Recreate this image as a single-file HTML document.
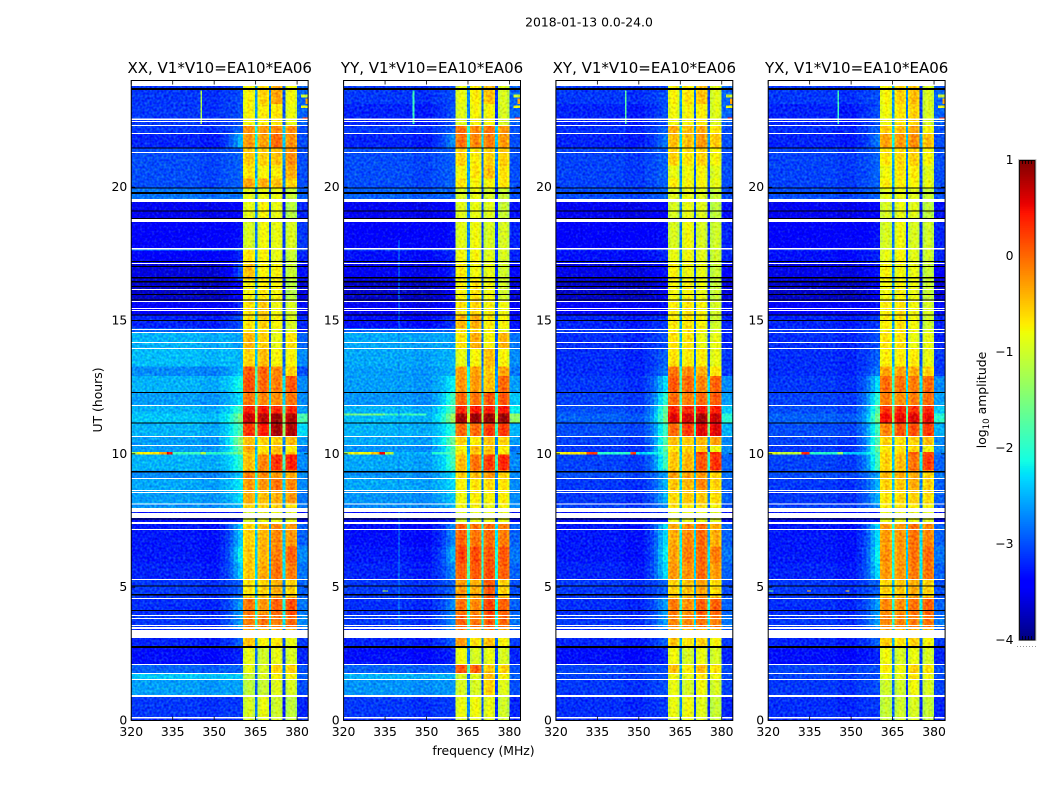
<!DOCTYPE html>
<html lang="en">
<head>
<meta charset="utf-8">
<title>2018-01-13 0.0-24.0</title>
<style>
html,body{margin:0;padding:0;background:#fff}
#chart{display:block;width:1050px;height:800px}
text{font-family:"DejaVu Sans","Liberation Sans",sans-serif;fill:#000}
</style>
</head>
<body>
<svg id="chart" xmlns="http://www.w3.org/2000/svg" width="1050" height="800" viewBox="0 0 1050 800">
<defs>
<filter id="speckle" x="0" y="0" width="1" height="1" color-interpolation-filters="sRGB">
<feTurbulence type="fractalNoise" baseFrequency="0.42" numOctaves="1" seed="7" result="n"/>
<feColorMatrix in="n" type="matrix" values="0.5 0 0 0 0.25  1 0 0 0 0  0 0.9 0 0 0.05  0 0 0 0 1" result="m"/>
<feComposite in="SourceGraphic" in2="m" operator="arithmetic" k1="0" k2="1" k3="0.6" k4="-0.3"/>
</filter>
</defs>
<rect x="0" y="0" width="1050" height="800" fill="#fff"/>
<text x="589" y="26.5" font-size="12.4" text-anchor="middle">2018-01-13 0.0-24.0</text>
<text x="483.5" y="755" font-size="12.4" text-anchor="middle">frequency (MHz)</text>
<text transform="translate(102,400) rotate(-90)" font-size="12.4" text-anchor="middle">UT (hours)</text>
<text transform="translate(986,400) rotate(-90)" font-size="12.4" text-anchor="middle">log<tspan font-size="8.7" dy="3">10</tspan><tspan dy="-3"> amplitude</tspan></text>
<g id="panels"></g>
<g id="colorbar"></g>
</svg>
<script>
// ---------- chart data ----------
const panelTitles = ["XX, V1*V10=EA10*EA06","YY, V1*V10=EA10*EA06","XY, V1*V10=EA10*EA06","YX, V1*V10=EA10*EA06"];
const xTickLabels = [320,335,350,365,380];
const yTickLabels = [0,5,10,15,20];
const colorbarTicks = [1,0,-1,-2,-3,-4];
const bandStarts = [360.5,365.7,370.6,375.8];
const bandShape = [-0.08,0.02,0.1,0.06,-0.08];
const notchDrop = [-1.8,-2.1,-2.1];
const shoulderEdges = [352,354,355.5,357,358.7,360.5];
const shoulderMix = [0.08,0.2,0.4,0.7,1];

// time-block boundaries, hours (descending)
const timeEdges = [23.77,23.1,22.3,22.0,21.45,20.8,20.3,19.95,19.45,18.7,17.7,17.6,17.1,16.5,15.75,15.2,14.7,14.55,13.95,13.25,12.9,12.3,11.8,11.5,11.15,10.65,10.3,10.05,9.95,9.35,9.05,8.6,8.1,7.8,7.4,6.5,5.9,5.25,4.6,3.95,3.4,2.75,2.1,1.75,1.5,0.9,0.1,0];

// flagged (blank) intervals, hours
const whiteFlags = [[22.56,22.5],[22.46,22.425],[22.31,22.275],[22.01,21.975],[21.3,21.26],[19.54,19.425],[18.79,18.675],[17.7,17.64],[17.14,17.1],[16.16,16.125],[15.71,15.675],[15.45,15.41],[15.375,15.34],[14.66,14.625],[14.55,14.51],[14.175,14.14],[13.95,13.91],[11.81,11.775],[10.65,10.61],[10.31,10.275],[9.075,9.04],[8.625,8.59],[8.55,8.51],[8.12,8.08],[7.95,7.8],[7.76,7.575],[7.425,7.35],[7.16,7.125],[5.29,5.25],[4.575,4.54],[3.94,3.9],[3.825,3.79],[3.56,3.525],[3.49,3.41],[3.375,3.075],[2.1,2.06],[1.76,1.725],[1.54,1.5],[0.94,0.86],[0.11,0.056]];
const blackFlags = [[23.7,23.625],[21.47,21.43],[19.97,19.93],[19.8,19.725],[19.11,19.07],[18.825,18.79],[17.21,17.175],[17.025,16.99],[16.61,16.56],[16.46,16.41],[16.275,16.24],[15.975,15.94],[15.77,15.73],[15.21,15.17],[15,14.96],[12.3,12.26],[11.16,11.12],[9.34,9.28],[7.56,7.52],[5.04,5],[4.725,4.67],[4.125,4.09],[2.775,2.7]];

// log10 amplitude per time block: background, shoulder, band A, B, C, D, high-edge
const levelsXX = [
[-3.1,-3,-.8,-.6,-.35,-.85,-2.9],[-3.1,-3,-.8,-.75,-.7,-.9,-2.9],[-3.1,-2.9,-.25,-.3,-.2,-.25,-3],[-3.2,-2.5,-.3,-.35,-.05,-.25,-3],[-3,-2.9,-.55,-.6,-.5,-.25,-3],[-3,-2.9,-.7,-.8,-.75,-.4,-3],[-3,-2.9,-.35,-.4,-.5,-.6,-3],[-2.8,-2.8,-.9,-.9,-.9,-1.1,-2.9],[-3.5,-3.4,-.9,-.8,-.9,-1.2,-3.2],[-3.4,-3.3,-1,-.85,-.9,-1,-3.1],[-2.7,-2.7,-.8,-.7,-.9,-1,-3],[-3.4,-3.2,-.7,-.8,-.9,-1.1,-3.2],[-3.6,-3,-.5,-.8,-.8,-1.1,-3.3],[-3.7,-3.4,-.8,-.75,-.8,-1.2,-3.6],[-3.4,-3.2,-.7,-.55,-.85,-1,-3.3],[-3.2,-3,-.7,-.6,-.8,-1,-3.2],[-2.9,-2.9,-.7,-.7,-.9,-1,-3.2],[-2.5,-2.6,-.45,-.6,-.9,-.7,-2.9],[-2.45,-2.5,-.6,-.5,-.8,-.8,-2.7],[-2.7,-2.4,.05,0,-.2,-.6,-3],[-2.5,-2.1,.1,-.05,-.15,.05,-2.7],[-2.6,-2.3,-.1,-.2,-.25,-.1,-2.7],[-2.5,-1.9,.35,.4,.3,.3,-2.6],[-2.4,-1.5,.65,.7,.85,.75,-1.8],[-2.5,-1.8,.25,.35,.8,.75,-2.3],[-2.6,-1.4,-.5,-.6,-.6,-.5,-2.6],[-2.6,-1.6,-.35,-.7,-.5,-.75,-2.8],[-2,-1.5,-.6,-.6,-.5,-.5,-2.6],[-2.5,-2,-.5,-.2,.25,.35,-2.7],[-2.7,-2.4,-.15,-.2,-.3,-.4,-2.7],[-2.55,-2.2,-.3,-.3,-.1,-.2,-2.7],[-2.6,-2.3,-.4,-.5,-.4,-.3,-2.8],[-2.65,-2.5,-.6,-.6,-.6,-.7,-2.8],[-3.3,-3.2,-1,-.9,-.9,-.9,-3.3],[-3.25,-2.4,-.6,-.45,-.2,-.3,-2.9],[-3.25,-2.2,-.55,-.45,-.15,0,-2.7],[-3.2,-2.4,-.55,-.4,-.1,-.15,-2.8],[-3.1,-2.9,-.7,-.6,-.4,-.6,-2.9],[-3.15,-2.6,-.1,-.3,0,.1,-2.8],[-3.1,-2.6,-.15,-.1,-.15,-.05,-2.7],[-3.2,-2.9,-.5,-.8,-.7,-.9,-3.1],[-3.3,-3.2,-.9,-1.05,-.9,-1,-3.2],[-2.9,-2.9,-.9,-1,-.6,-.6,-3],[-2.4,-2.4,-1.1,-1,-.8,-.8,-2.9],[-2.6,-2.6,-1.15,-1.1,-.95,-1,-3],[-3.1,-3.1,-1,-.9,-1.05,-1.15,-3.2],[-3.2,-3.2,-1,-1,-1,-1.1,-3.2]];
const levelsYY = [
[-3.1,-3,-.9,-.75,-.5,-1,-2.9],[-3.2,-3,-.95,-.8,-.8,-1,-2.9],[-3.1,-2.9,-.1,-.2,-.1,-.3,-3],[-3.2,-2.7,-.1,-.2,-.15,-.3,-3],[-3,-2.9,-.6,-.75,-.6,-.6,-3],[-3,-2.9,-.8,-.7,-.5,-.7,-3],[-3,-2.9,-.7,-.8,-.8,-.7,-3],[-2.9,-2.9,-1,-.9,-1,-1.1,-3],[-3.5,-3.4,-.95,-.9,-.95,-1.1,-3.3],[-3.4,-3.3,-.95,-.85,-1,-1,-3.2],[-3,-3,-.9,-.85,-1,-1,-3.2],[-3.3,-3.2,-.85,-.8,-.95,-1,-3.2],[-3.5,-3.2,-.75,-.85,-.9,-1.05,-3.4],[-3.7,-3.5,-.8,-.7,-.85,-1.05,-3.6],[-3.5,-3.3,-.7,-.6,-.8,-.85,-3.4],[-3.3,-3.1,-.45,-.4,-.75,-.8,-3.3],[-2.9,-2.9,-.7,-.6,-.8,-.9,-3.2],[-2.55,-2.6,-.7,-.4,-.8,-.45,-2.8],[-2.55,-2.5,-.9,-.8,-.5,-.8,-2.7],[-2.6,-2.5,-.3,-.35,-.55,-.35,-2.8],[-2.6,-2.2,-.3,-.3,-.5,-.05,-2.6],[-2.65,-1.9,-.05,-.1,.05,.05,-2.4],[-2.5,-1.8,.3,.4,.35,.4,-2.2],[-2.45,-1.3,.8,.85,.85,.85,-1.4],[-2.5,-2,-.05,-.05,.2,.2,-2.5],[-2.55,-1.6,-.6,-.75,-.5,-.6,-2.6],[-2.65,-1.8,-.8,-.5,-.55,-.75,-2.8],[-2.1,-1.7,-.7,-.6,-.5,-.7,-2.7],[-2.55,-1.9,-.5,-.1,.2,.3,-2.7],[-2.65,-2.3,-.6,-.5,-.3,-.6,-2.7],[-2.55,-2.3,-.8,-.7,-.65,-.7,-2.7],[-2.65,-2.4,-.85,-.75,-.8,-.75,-2.7],[-2.7,-2.5,-.85,-.8,-.9,-.8,-2.7],[-3.3,-3.2,-1,-.9,-.9,-.9,-3.3],[-3.3,-2.7,0,-.1,-.05,-.15,-2.9],[-3.25,-2.5,.15,.1,.05,.05,-2.8],[-3.2,-2.7,0,.05,.1,0,-2.9],[-3.1,-2.9,-.3,-.4,.05,-.6,-3],[-3.15,-2.7,-.1,-.2,.15,0,-2.9],[-3.1,-2.7,0,-.1,.05,-.05,-2.8],[-3.2,-2.9,-.3,-.7,-.5,-.8,-3.1],[-3.3,-3.2,-.85,-1,-.9,-1,-3.2],[-2.9,-2.9,.05,0,-.55,-.6,-3],[-2.5,-2.5,-1,-.95,-.5,-.8,-2.9],[-2.65,-2.65,-1,-1,-.6,-.95,-3],[-3.1,-3.1,-.9,-.85,-.9,-1.05,-3.2],[-3.2,-3.2,-.95,-.9,-.95,-1.05,-3.2]];
const levelsXY = [
[-3.1,-3,-.8,-.7,-.5,-.95,-2.9],[-3.2,-3,-.85,-.8,-.75,-.95,-2.9],[-3.15,-2.9,-.4,-.5,-.4,-.7,-3],[-3.2,-2.8,-.5,-.5,-.3,-.55,-3],[-3.05,-2.9,-.6,-.7,-.6,-.8,-3],[-3.05,-2.9,-.9,-.85,-.8,-.95,-3],[-3.05,-2.9,-.75,-.8,-.8,-.9,-3],[-3,-2.9,-.95,-.9,-.95,-1.1,-3],[-3.5,-3.4,-1,-.9,-.95,-1.15,-3.3],[-3.4,-3.3,-1,-.85,-1,-1.05,-3.2],[-3.15,-3.1,-.95,-.9,-1,-1.05,-3.2],[-3.3,-3.2,-.9,-.85,-.95,-1.05,-3.2],[-3.55,-3.3,-.8,-.85,-.9,-1.1,-3.4],[-3.7,-3.5,-.85,-.8,-.9,-1.1,-3.6],[-3.4,-3.3,-.75,-.7,-.8,-1,-3.3],[-3.2,-3.1,-.75,-.7,-.8,-1.05,-3.2],[-3.1,-3,-.8,-.7,-.85,-1,-3.2],[-3.15,-3,-.7,-.7,-.9,-.9,-3.2],[-3.15,-2.9,-.7,-.75,-.75,-.9,-3.1],[-3.15,-2.8,-.1,-.2,-.4,-.7,-3.1],[-3.1,-2.3,.05,-.05,-.2,0,-2.7],[-3.05,-2,-.05,-.15,-.05,.05,-2.6],[-3,-1.7,.3,.3,.4,.35,-2.4],[-2.9,-1.6,.55,.6,.8,.65,-2],[-3,-1.9,-.05,.2,.55,.55,-2.5],[-3.05,-1.8,-.5,-.55,-.45,-.35,-2.7],[-3.1,-1.7,-.7,-.6,-.55,-.85,-2.7],[-2.3,-1.9,-.55,-.5,.2,.3,-2.7],[-3.05,-1.9,-.55,-.45,.05,.25,-2.9],[-3,-2.6,-.35,-.35,-.3,-.6,-2.8],[-3.1,-2.5,-.55,-.45,-.2,-.6,-2.9],[-3.1,-2.5,-.65,-.55,-.55,-.65,-2.9],[-3.05,-2.7,-.7,-.7,-.7,-.8,-3],[-3.3,-3.2,-.9,-.9,-.9,-.95,-3.3],[-3.25,-2.3,-.4,-.2,-.05,-.4,-2.9],[-3.25,-2.2,-.35,-.15,-.05,-.15,-2.8],[-3.2,-2.3,-.3,-.25,-.05,-.3,-2.9],[-3.1,-2.9,-.6,-.5,-.35,-.65,-3],[-3.15,-2.6,-.15,-.25,0,0,-2.9],[-3.1,-2.6,-.2,-.2,-.1,-.15,-2.8],[-3.2,-2.9,-.55,-.7,-.6,-.8,-3.1],[-3.3,-3.2,-.85,-1,-.9,-1,-3.2],[-3.05,-3,-.5,-.75,-.5,-.7,-3],[-3.05,-3,-.85,-.9,-.7,-.85,-3],[-3.1,-3,-.9,-1,-.85,-1,-3.05],[-3.15,-3.1,-.9,-.85,-.95,-1.1,-3.2],[-3.2,-3.2,-.95,-.9,-.95,-1.1,-3.2]];
const levelsYX = [
[-3.1,-3,-.8,-.6,-.5,-1,-2.9],[-3.2,-3,-.85,-.7,-.6,-1,-2.9],[-3.15,-2.9,-.55,-.5,-.4,-.8,-3],[-3.2,-2.8,-.35,-.3,-.25,-.5,-3],[-3.05,-2.9,-.7,-.65,-.6,-.8,-3],[-3.05,-2.9,-.85,-.7,-.75,-.95,-3],[-3.05,-2.9,-.75,-.75,-.8,-.9,-3],[-3,-2.9,-.95,-.9,-.95,-1.1,-3],[-3.5,-3.4,-1,-.9,-.95,-1.15,-3.3],[-3.4,-3.3,-1,-.85,-1,-1.05,-3.2],[-3.15,-3.1,-.95,-.85,-1,-1.05,-3.2],[-3.3,-3.2,-.9,-.8,-.95,-1.05,-3.2],[-3.55,-3.3,-.8,-.85,-.9,-1.1,-3.4],[-3.7,-3.5,-.85,-.8,-.9,-1.1,-3.6],[-3.4,-3.3,-.75,-.7,-.85,-1,-3.3],[-3.2,-3.1,-.75,-.7,-.85,-1.05,-3.2],[-3.1,-3,-.8,-.7,-.85,-1,-3.2],[-3.15,-3,-.7,-.7,-.9,-.9,-3.2],[-3.15,-2.9,-.75,-.75,-.75,-.9,-3.1],[-3.15,-2.8,-.35,-.35,-.4,-.6,-3.1],[-3.1,-2.3,-.05,-.1,-.15,-.05,-2.7],[-3.05,-2,-.15,-.25,-.15,-.05,-2.6],[-3,-1.8,.25,.3,.25,.3,-2.4],[-2.9,-1.6,.45,.5,.55,.5,-2],[-3,-1.9,-.2,.05,.1,.2,-2.5],[-3.05,-1.8,-.6,-.7,-.6,-.5,-2.7],[-3.1,-1.7,-.75,-.7,-.65,-.85,-2.7],[-2.3,-1.9,-.6,-.6,.05,.1,-2.7],[-3.05,-1.9,-.6,-.5,-.1,.2,-2.9],[-3,-2.6,-.45,-.4,-.4,-.6,-2.8],[-3.1,-2.5,-.6,-.55,-.4,-.6,-2.9],[-3.1,-2.5,-.7,-.65,-.6,-.65,-2.9],[-3.05,-2.7,-.75,-.7,-.75,-.8,-3],[-3.3,-3.2,-.9,-.9,-.9,-.95,-3.3],[-3.25,-2.3,-.3,-.3,-.1,-.2,-2.9],[-3.25,-2.2,-.25,-.3,-.1,-.05,-2.8],[-3.2,-2.3,-.3,-.3,-.15,-.1,-2.9],[-3.1,-2.9,-.6,-.55,-.4,-.6,-3],[-3.15,-2.6,-.2,-.25,-.1,0,-2.9],[-3.1,-2.6,-.2,-.2,-.15,-.1,-2.8],[-3.2,-2.9,-.55,-.7,-.6,-.8,-3.1],[-3.3,-3.2,-.85,-1,-.9,-1,-3.2],[-3.05,-3,-.75,-.85,-.6,-.7,-3],[-3.05,-3,-.9,-.9,-.7,-.85,-3],[-3.1,-3,-1.05,-1.05,-.85,-1,-3.05],[-3.15,-3.1,-1.1,-1.05,-1,-1.1,-3.2],[-3.2,-3.2,-1.1,-1.05,-1,-1.1,-3.2]];

// narrowband interference: panel index, hour from, hour to, MHz from, MHz to, level
const narrowband = [
[0,10.05,9.95,320,322,-1.3],[0,10.05,9.95,322,330,-.7],[0,10.05,9.95,330,333,-.3],[0,10.05,9.95,333,335,.5],[0,10.05,9.95,335,345,-1.9],[0,10.05,9.95,345,347,-1.2],[0,10.05,9.95,347,352,-2],
[1,10.05,9.95,320,322,-1.3],[1,10.05,9.95,322,330,-.8],[1,10.05,9.95,330,333,-.5],[1,10.05,9.95,333,335,.5],[1,10.05,9.95,335,338,-1.1],[1,10.05,9.95,338,352,-2.5],
[1,11.5,11.42,320,335,-1.55],[1,11.5,11.42,335,350,-1.9],
[2,10.05,9.95,320,322,-.8],[2,10.05,9.95,322,331,-.7],[2,10.05,9.95,331,335,.3],[2,10.05,9.95,335,347,-2],[2,10.05,9.95,347,349,.3],[2,10.05,9.95,349,352,-2.3],
[3,10.05,9.95,320,324,-.9],[3,10.05,9.95,324,332,-1.1],[3,10.05,9.95,332,335,.4],[3,10.05,9.95,335,345,-2],[3,10.05,9.95,345,347,-1.3],[3,10.05,9.95,347,352,-2.4],
[3,4.85,4.81,320,322,-1.6],[3,4.85,4.81,334,335.5,-.5],[3,4.85,4.81,348,349.5,-.6],
[1,4.85,4.81,334,336,-1.2],
[0,23.6,22.35,345,345.6,-1.2],[1,23.6,22.35,345,345.6,-1.9],[2,23.6,22.35,345,345.6,-1.7],[3,23.6,22.35,345,345.6,-1.9],
[1,18,3,339.8,340.2,-2.7],
[0,23.45,23.35,381.5,384,-1],[0,23.05,22.95,381.5,384,-.8],[0,22.6,22.56,382,384,.3],[0,23.3,23.1,383,384,-.3],
[1,23.45,23.35,381.5,384,-1],[1,23.05,22.95,381.5,384,-.8],[1,22.6,22.56,382,384,.3],[1,23.3,23.1,383,384,-.3],
[2,23.45,23.35,381.5,384,-1],[2,23.05,22.95,381.5,384,-.8],[2,22.6,22.56,382,384,.3],[2,23.3,23.1,383,384,-.3],
[3,23.45,23.35,381.5,384,-1],[3,23.05,22.95,381.5,384,-.8],[3,22.6,22.56,382,384,.3],[3,23.3,23.1,383,384,-.3]];

// ---------- axes ----------
const NS = "http://www.w3.org/2000/svg";
const plotW = 176.9, plotTop = 80, plotBottom = 720;
const panelLefts = [131.25, 343.6, 555.9, 768.2];
const xScale = (panel, f) => panelLefts[panel] + (f - 320) / 64 * plotW;
const yScale = h => plotBottom - h / 24 * (plotBottom - plotTop);

function jet(v){
  const t = Math.max(0, Math.min(1, (v + 4) / 5));
  const ramp = (pts) => {
    for (let i = 1; i < pts.length; i++) {
      if (t <= pts[i][0]) {
        const a = pts[i-1], b = pts[i];
        return a[1] + (b[1]-a[1]) * (t-a[0]) / (b[0]-a[0]);
      }
    }
    return pts[pts.length-1][1];
  };
  const r = ramp([[0,0],[.35,0],[.66,1],[.89,1],[1,.5]]);
  const g = ramp([[0,0],[.125,0],[.375,1],[.64,1],[.91,0],[1,0]]);
  const b = ramp([[0,.5],[.11,1],[.34,1],[.65,0],[1,0]]);
  return "rgb(" + Math.round(r*255) + "," + Math.round(g*255) + "," + Math.round(b*255) + ")";
}

function columnValue(col, row){
  if (col.kind === "bg") return row[0] + col.off;
  if (col.kind === "mix") return row[0] + (row[1] - row[0]) * col.off;
  if (col.kind === "band") return row[2 + col.idx] + col.off;
  if (col.kind === "notch") return Math.min(row[2 + col.idx], row[3 + col.idx]) + col.off;
  return row[6] + col.off;
}

const columns = [
  {f0:320,f1:345,kind:"bg",off:0},
  {f0:345,f1:352,kind:"bg",off:-0.05}
];
shoulderMix.forEach((m, i) => {
  columns.push({f0:shoulderEdges[i], f1:shoulderEdges[i+1], kind:"mix", off:m});
});
bandStarts.forEach((start, b) => {
  const subW = 4.2 / bandShape.length;
  bandShape.forEach((off, s) => {
    columns.push({f0:start + s*subW, f1:start + (s+1)*subW, kind:"band", idx:b, off:off});
  });
  if (b < notchDrop.length) {
    columns.push({f0:start + 4.2, f1:bandStarts[b+1], kind:"notch", idx:b, off:notchDrop[b]});
  }
});
columns.push({f0:380,f1:384,kind:"edge",off:0});

const panelsRoot = document.getElementById("panels");
const panelData = [levelsXX, levelsYY, levelsXY, levelsYX];

function addRect(parent, x, y, w, h, fill){
  const r = document.createElementNS(NS, "rect");
  r.setAttribute("x", x.toFixed(2));
  r.setAttribute("y", y.toFixed(2));
  r.setAttribute("width", w.toFixed(2));
  r.setAttribute("height", h.toFixed(2));
  r.setAttribute("fill", fill);
  parent.appendChild(r);
  return r;
}

panelTitles.forEach((title, p) => {
  const g = document.createElementNS(NS, "g");
  
  
  panelsRoot.appendChild(g);

  const cells = document.createElementNS(NS, "g");
  cells.setAttribute("shape-rendering", "crispEdges");
  cells.setAttribute("filter", "url(#speckle)");
  
  
  g.appendChild(cells);

  panelData[p].forEach((row, i) => {
    const y0 = yScale(timeEdges[i]);
    const y1 = yScale(timeEdges[i+1]);
    columns.forEach(col => {
      const x0 = xScale(p, col.f0);
      const x1 = xScale(p, col.f1);
      const cell = addRect(cells, x0, y0, x1 - x0, y1 - y0, jet(columnValue(col, row)));
      
      
    });
  });

  narrowband.filter(n => n[0] === p).forEach(n => {
    const x0 = xScale(p, n[3]);
    const x1 = xScale(p, n[4]);
    const y0 = yScale(n[1]);
    const y1 = yScale(n[2]);
    const mark = addRect(cells, x0, y0, Math.max(x1 - x0, 1), Math.max(y1 - y0, 1), jet(n[5]));
    
    
  });

  const flags = document.createElementNS(NS, "g");
  flags.setAttribute("shape-rendering", "crispEdges");
  
  
  g.appendChild(flags);

  whiteFlags.forEach(fl => {
    const y0 = yScale(fl[0]);
    const band = addRect(flags, panelLefts[p], y0, plotW, Math.max(yScale(fl[1]) - y0, 1), "#fff");
    
    
  });
  blackFlags.forEach(fl => {
    const y0 = yScale(fl[0]);
    const band = addRect(flags, panelLefts[p], y0, plotW, Math.max(yScale(fl[1]) - y0, 1), "#000");
    
    
  });

  const frame = document.createElementNS(NS, "rect");
  frame.setAttribute("x", panelLefts[p]);
  frame.setAttribute("y", plotTop + 0.5);
  frame.setAttribute("width", plotW);
  frame.setAttribute("height", plotBottom - plotTop);
  frame.setAttribute("fill", "none");
  frame.setAttribute("stroke", "#000");
  frame.setAttribute("stroke-width", "1");
  
  
  g.appendChild(frame);

  xTickLabels.forEach(v => {
    const x = xScale(p, v);
    [[plotBottom + 0.5, plotBottom - 3.5], [plotTop + 0.5, plotTop + 4.5]].forEach(t => {
      const tick = document.createElementNS(NS, "line");
      tick.setAttribute("x1", x);
      tick.setAttribute("x2", x);
      tick.setAttribute("y1", t[0]);
      tick.setAttribute("y2", t[1]);
      tick.setAttribute("stroke", "#000");
      tick.setAttribute("stroke-width", "0.8");
      
      
      g.appendChild(tick);
    });
    const label = document.createElementNS(NS, "text");
    label.setAttribute("x", x);
    label.setAttribute("y", plotBottom + 16);
    label.setAttribute("font-size", "12.4");
    label.setAttribute("text-anchor", "middle");
    
    
    label.textContent = v;
    g.appendChild(label);
  });

  yTickLabels.forEach(v => {
    const y = yScale(v) + 0.5;
    [[panelLefts[p], panelLefts[p] + 4], [panelLefts[p] + plotW, panelLefts[p] + plotW - 4]].forEach(t => {
      const tick = document.createElementNS(NS, "line");
      tick.setAttribute("x1", t[0]);
      tick.setAttribute("x2", t[1]);
      tick.setAttribute("y1", y);
      tick.setAttribute("y2", y);
      tick.setAttribute("stroke", "#000");
      tick.setAttribute("stroke-width", "0.8");
      
      
      g.appendChild(tick);
    });
    const label = document.createElementNS(NS, "text");
    label.setAttribute("x", panelLefts[p] - 4);
    label.setAttribute("y", y + 4);
    label.setAttribute("font-size", "12.4");
    label.setAttribute("text-anchor", "end");
    
    
    label.textContent = v;
    g.appendChild(label);
  });

  const t = document.createElementNS(NS, "text");
  t.setAttribute("x", panelLefts[p] + plotW / 2);
  t.setAttribute("y", 73);
  t.setAttribute("font-size", "15");
  t.setAttribute("text-anchor", "middle");
  
  
  t.textContent = title;
  g.appendChild(t);
});

// ---------- colorbar ----------
const cbRoot = document.getElementById("colorbar");
const cbX = 1019.5, cbW = 15.5, cbTop = 160, cbBottom = 640;
const cbScale = v => cbBottom - (v + 4) / 5 * (cbBottom - cbTop);
for (let i = 0; i < 256; i++) {
  const v0 = -4 + i * 5 / 256;
  const v1 = -4 + (i + 1) * 5 / 256;
  const step = document.createElementNS(NS, "rect");
  step.setAttribute("x", cbX);
  step.setAttribute("y", cbScale(v1));
  step.setAttribute("width", cbW);
  step.setAttribute("height", cbScale(v0) - cbScale(v1) + 0.4);
  step.setAttribute("fill", jet((v0 + v1) / 2));
  
  
  cbRoot.appendChild(step);
}
const halo = document.createElementNS(NS, "rect");
halo.setAttribute("x", cbX - 0.9);
halo.setAttribute("y", cbTop - 0.4);
halo.setAttribute("width", cbW + 1.8);
halo.setAttribute("height", cbBottom - cbTop + 0.8);
halo.setAttribute("fill", "none");
halo.setAttribute("stroke", "#bbb");
halo.setAttribute("stroke-width", "1");


cbRoot.appendChild(halo);
const outline = document.createElementNS(NS, "rect");
outline.setAttribute("x", cbX);
outline.setAttribute("y", cbTop + 0.5);
outline.setAttribute("width", cbW);
outline.setAttribute("height", cbBottom - cbTop - 0.5);
outline.setAttribute("fill", "none");
outline.setAttribute("stroke", "#000");
outline.setAttribute("stroke-width", "0.9");


cbRoot.appendChild(outline);

[3, 6, 9, 12].forEach(dx => {
  [[cbTop, cbTop + 4], [cbBottom, cbBottom - 4]].forEach(ys => {
    const mt = document.createElementNS(NS, "line");
    mt.setAttribute("x1", cbX + dx);
    mt.setAttribute("x2", cbX + dx);
    mt.setAttribute("y1", ys[0]);
    mt.setAttribute("y2", ys[1]);
    mt.setAttribute("stroke", "#000");
    mt.setAttribute("stroke-width", "0.8");
    
    
    cbRoot.appendChild(mt);
  });
});

colorbarTicks.forEach(v => {
  const label = document.createElementNS(NS, "text");
  label.setAttribute("x", 1013.5);
  label.setAttribute("y", cbScale(v) + 4);
  label.setAttribute("font-size", "12.4");
  label.setAttribute("text-anchor", "end");
  
  
  label.textContent = v < 0 ? "\u2212" + Math.abs(v) : String(v);
  cbRoot.appendChild(label);
});

for (let i = 0; i < 7; i++) {
  const dot = document.createElementNS(NS, "rect");
  dot.setAttribute("x", 1017 + i * 3);
  dot.setAttribute("y", 646);
  dot.setAttribute("width", 1);
  dot.setAttribute("height", 1);
  dot.setAttribute("fill", "#999");
  
  
  cbRoot.appendChild(dot);
}
</script>
</body>
</html>
